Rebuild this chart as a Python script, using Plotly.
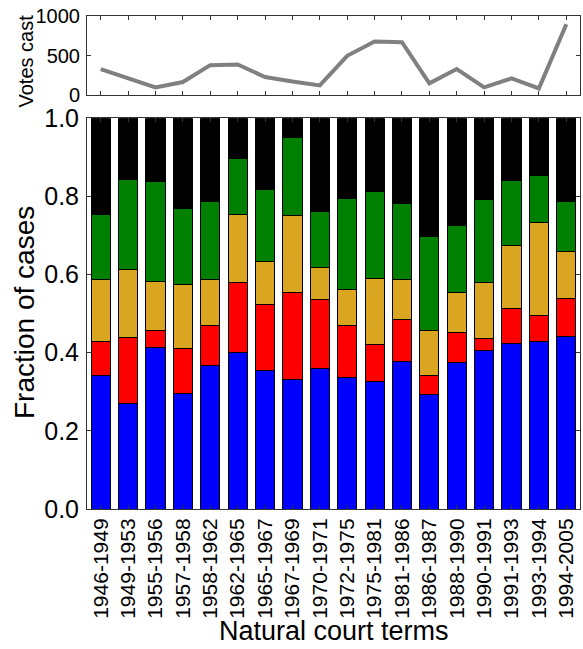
import plotly.graph_objects as go

# Natural court terms
terms = ["1946-1949", "1949-1953", "1955-1956", "1957-1958", "1958-1962",
         "1962-1965", "1965-1967", "1967-1969", "1970-1971", "1972-1975",
         "1975-1981", "1981-1986", "1986-1987", "1988-1990", "1990-1991",
         "1991-1993", "1993-1994", "1994-2005"]

# Total votes cast per term
votes = [328, 212, 97, 164, 378, 387, 227, 172, 122, 496,
         677, 668, 147, 328, 97, 210, 84, 895]

# Fraction of cases in each category (stacked bottom to top)
frac_blue = [0.341, 0.270, 0.414, 0.296, 0.367, 0.401, 0.355, 0.331, 0.360,
             0.337, 0.326, 0.377, 0.292, 0.375, 0.406, 0.423, 0.428, 0.441]
frac_red = [0.088, 0.169, 0.043, 0.114, 0.102, 0.178, 0.168, 0.224, 0.176,
            0.132, 0.095, 0.108, 0.050, 0.076, 0.030, 0.090, 0.066, 0.097]
frac_gold = [0.158, 0.174, 0.126, 0.165, 0.118, 0.176, 0.111, 0.195, 0.083,
             0.092, 0.170, 0.102, 0.115, 0.102, 0.145, 0.161, 0.240, 0.122]
frac_green = [0.168, 0.231, 0.255, 0.194, 0.200, 0.142, 0.185, 0.200, 0.143,
              0.235, 0.221, 0.195, 0.240, 0.173, 0.212, 0.166, 0.120, 0.127]
frac_black = [0.245, 0.156, 0.162, 0.231, 0.213, 0.103, 0.181, 0.050, 0.238,
              0.204, 0.188, 0.218, 0.303, 0.274, 0.207, 0.160, 0.146, 0.213]

series = [
    (frac_blue, "#0000ff"),
    (frac_red, "#ff0000"),
    (frac_gold, "#daa520"),
    (frac_green, "#008000"),
    (frac_black, "#000000"),
]

FONT = "Liberation Sans, Arial, sans-serif"
W, H = 583, 649
ML, MR, MT, MB = 87, 3, 16, 140
PW = W - ML - MR
PH = H - MT - MB


def px_x(px):
    return (px - ML) / PW


def px_y(py):
    return (H - MB - py) / PH


fig = go.Figure()

# Votes cast line (top panel)
fig.add_trace(go.Scatter(
    x=terms, y=votes, mode="lines",
    line=dict(color="#808080", width=4),
    xaxis="x2", yaxis="y2", showlegend=False, hoverinfo="skip",
))

# Stacked fractions (bottom panel)
for vals, col in series:
    fig.add_trace(go.Bar(
        x=terms, y=vals, width=0.7,
        marker=dict(color=col, line=dict(color="#000000", width=1)),
        xaxis="x", yaxis="y", showlegend=False,
    ))

axis_common = dict(
    showline=True, linecolor="#333333", linewidth=1, mirror="ticks",
    ticks="inside", ticklen=4, tickcolor="#333333", tickwidth=1,
    showgrid=False, zeroline=False,
)

fig.update_layout(
    width=W, height=H,
    margin=dict(l=ML, r=MR, t=MT, b=MB),
    paper_bgcolor="white", plot_bgcolor="white",
    barmode="stack", bargap=0.3,
    font=dict(family=FONT, color="black"),
    xaxis=dict(
        domain=[0, 1], anchor="y", range=[-0.5, 17.5],
        tickangle=-90, tickfont=dict(size=21, family=FONT, color="black"),
        **axis_common,
    ),
    yaxis=dict(
        domain=[0, px_y(118.3)], anchor="x", range=[0, 1],
        tickvals=[0, 0.2, 0.4, 0.6, 0.8, 1.0],
        ticktext=["0.0", "0.2", "0.4", "0.6", "0.8", "1.0"],
        tickfont=dict(size=25, family=FONT, color="black"),
        ticklabelstandoff=2,
        **axis_common,
    ),
    xaxis2=dict(
        domain=[0, 1], anchor="y2", range=[-0.5, 17.5],
        showticklabels=False,
        **axis_common,
    ),
    yaxis2=dict(
        domain=[px_y(95), 1], anchor="x2", range=[0, 1000],
        tickvals=[0, 500, 1000],
        tickfont=dict(size=20, family=FONT, color="black"),
        ticklabelstandoff=2,
        **axis_common,
    ),
    annotations=[
        dict(text="Votes cast", textangle=-90, xref="paper", yref="paper",
             x=px_x(25.5), y=px_y(61), xanchor="center", yanchor="middle",
             showarrow=False, font=dict(size=20, family=FONT, color="black")),
        dict(text="Fraction of cases", textangle=-90, xref="paper", yref="paper",
             x=px_x(24), y=px_y(313), xanchor="center", yanchor="middle",
             showarrow=False, font=dict(size=28, family=FONT, color="black")),
        dict(text="Natural court terms", xref="paper", yref="paper",
             x=px_x(334), y=px_y(648), xanchor="center", yanchor="bottom",
             showarrow=False, font=dict(size=27, family=FONT, color="black")),
    ],
)

fig.write_html("out.html")
